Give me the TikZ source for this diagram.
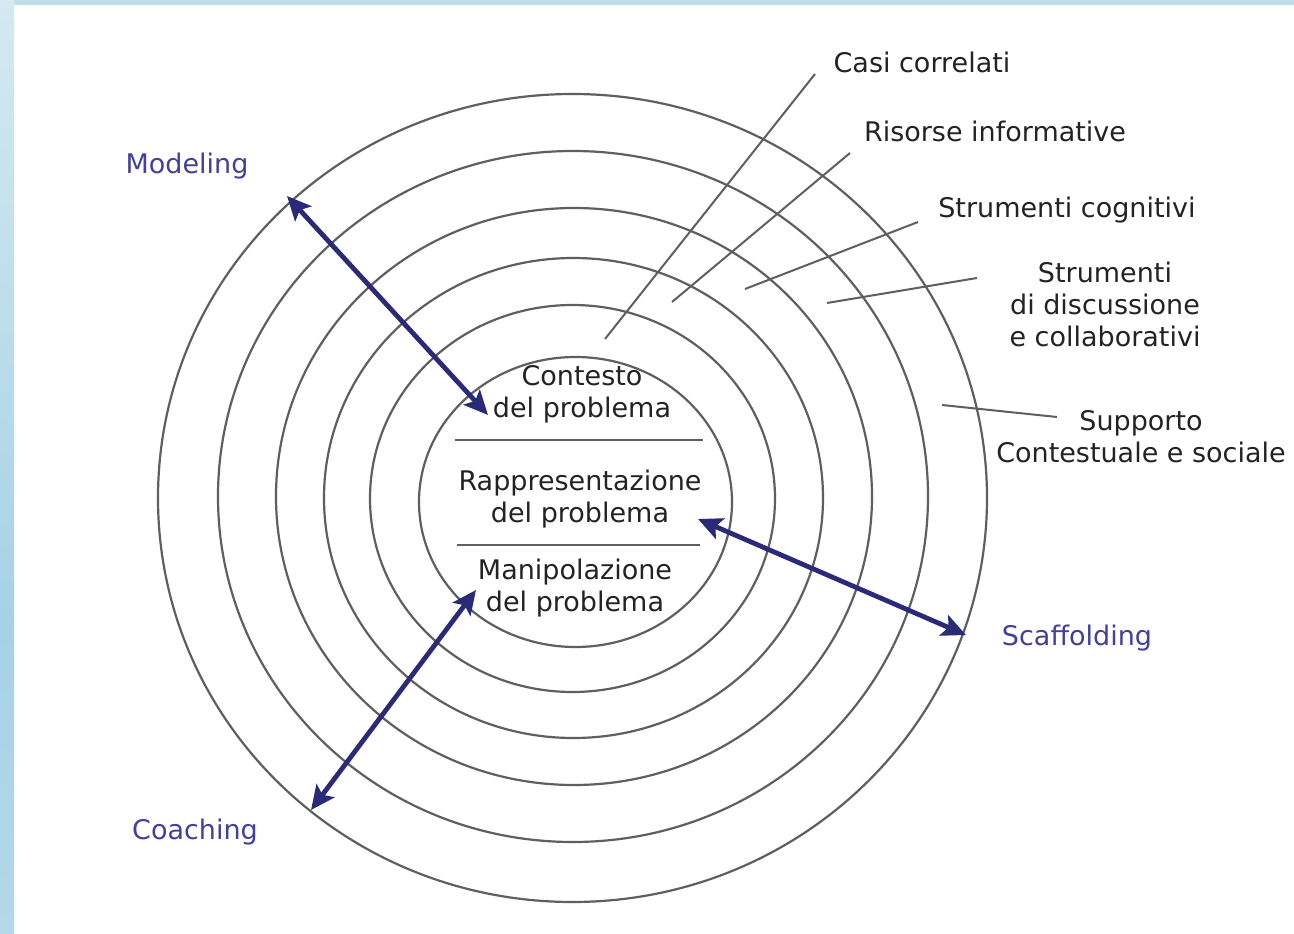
\documentclass[tikz,border=0pt]{standalone}
\usepackage{fontspec}
\setmainfont{DejaVu Sans}
\usetikzlibrary{shapes.geometric,arrows.meta}
\definecolor{frameblue}{RGB}{190,223,233}
\definecolor{bandtop}{RGB}{212,233,241}
\definecolor{bandmid}{RGB}{166,210,228}
\definecolor{ringgray}{RGB}{95,95,95}
\definecolor{inkgray}{RGB}{35,35,35}
\definecolor{navy}{RGB}{42,42,120}
\definecolor{labelblue}{RGB}{65,65,155}
\tikzset{
  ring/.style={draw=ringgray, line width=2.2pt, ellipse, inner sep=0pt},
  txt/.style={text=inkgray, font=\fontsize{27}{32}\selectfont, align=center, inner sep=0pt},
  bluetxt/.style={text=labelblue, font=\fontsize{27}{32}\selectfont, inner sep=0pt},
  leader/.style={draw=ringgray, line width=2pt},
  divider/.style={draw=ringgray, line width=2.2pt},
  twoway/.style={draw=navy, line width=4.8pt,
    {Stealth[length=24pt,width=22pt,inset=5pt]}-{Stealth[length=24pt,width=22pt,inset=5pt]}}
}
\begin{document}
\begin{tikzpicture}[x=1pt,y=-1pt]
\useasboundingbox (0,0) rectangle (1294,934);
% page background with framing bands
\fill[white] (0,0) rectangle (1294,934);
\fill[frameblue] (0,0) rectangle (1294,5);
\shade[top color=bandtop, bottom color=bandmid] (0,0) rectangle (14,620);
\shade[top color=bandmid, bottom color=bandmid!85!white] (0,620) rectangle (14,934);

% concentric rings
\node[ring, minimum width=313pt, minimum height=290pt] (ring1) at (575.5,502) {};
\node[ring, minimum width=405pt, minimum height=387pt] (ring2) at (572.5,498.5) {};
\node[ring, minimum width=499pt, minimum height=480pt] (ring3) at (573.5,498) {};
\node[ring, minimum width=596pt, minimum height=577pt] (ring4) at (574,496.5) {};
\node[ring, minimum width=710pt, minimum height=691pt] (ring5) at (573,496.5) {};
\node[ring, minimum width=829pt, minimum height=808pt] (ring6) at (572.5,498) {};

% core texts and separators
\node[txt] (contesto) at (582,394) {Contesto\\del problema};
\node[txt] (rappr) at (580,499) {Rappresentazione\\del problema};
\node[txt] (manip) at (575,588) {Manipolazione\\del problema};
\coordinate (d1a) at (455,440); \coordinate (d1b) at (703,440);
\coordinate (d2a) at (457,545); \coordinate (d2b) at (700,545);
\draw[divider] (d1a) -- (d1b);
\draw[divider] (d2a) -- (d2b);

% outer labels
\node[txt] (casi) at (922,62) {Casi correlati};
\node[txt] (risorse) at (995,131) {Risorse informative};
\node[txt] (cogn) at (1067,210) {Strumenti cognitivi};
\node[txt] (discu) at (1105,304) {Strumenti\\di discussione\\e collaborativi};
\node[txt] (supp) at (1141,437) {Supporto\\Contestuale e sociale};

% leader lines
\coordinate (casiA) at (815,74);   \coordinate (casiB) at (605,339);
\coordinate (risA) at (850,153);   \coordinate (risB) at (672,302);
\coordinate (cogA) at (918,222);   \coordinate (cogB) at (745,289);
\coordinate (disA) at (977,278);   \coordinate (disB) at (827,303);
\coordinate (supA) at (1057,417);  \coordinate (supB) at (942,405);
\draw[leader] (casiA) -- (casiB);
\draw[leader] (risA) -- (risB);
\draw[leader] (cogA) -- (cogB);
\draw[leader] (disA) -- (disB);
\draw[leader] (supA) -- (supB);

% instructional strategies
\node[bluetxt] (modeling) at (187,166) {Modeling};
\node[bluetxt] (coaching) at (195,832) {Coaching};
\node[bluetxt] (scaff) at (1077,638) {Scaffolding};
\coordinate (modA) at (287,196);  \coordinate (modB) at (488,415);
\coordinate (coaA) at (476,590);  \coordinate (coaB) at (311,810);
\coordinate (scaA) at (698,519);  \coordinate (scaB) at (966,635);
\draw[twoway] (modA) -- (modB);
\draw[twoway] (coaA) -- (coaB);
\draw[twoway] (scaA) -- (scaB);
\end{tikzpicture}
\end{document}
